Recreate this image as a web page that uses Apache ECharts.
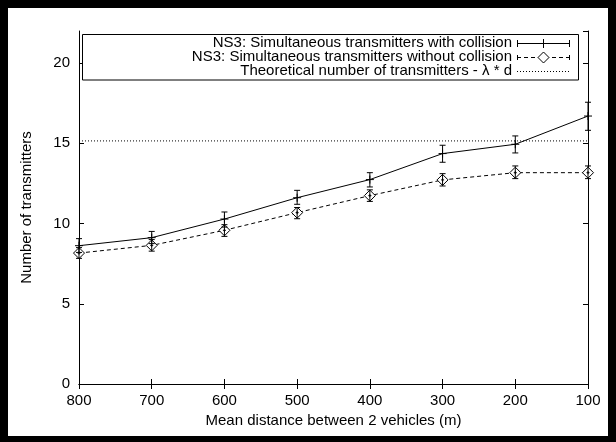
<!DOCTYPE html>
<html><head><meta charset="utf-8">
<script src="https://cdn.jsdelivr.net/npm/echarts@6/dist/echarts.min.js"></script>
<style>
html,body{margin:0;padding:0;background:#fff;}
#wrap{position:relative;width:616px;height:442px;}
#chart{width:616px;height:442px;}
#frame{position:absolute;left:0;top:0;width:616px;height:442px;box-sizing:border-box;border-style:solid;border-color:#000;border-width:8px 8px 6px 8px;pointer-events:none;}
</style></head>
<body><div id="wrap"><div id="chart"></div><div id="frame"></div></div>
<script>
const categories = ['800','700','600','500','400','300','200','100'];
const withCollision     = [8.62, 9.12, 10.28, 11.61, 12.74, 14.36, 14.94, 16.70];
const withCollisionLow  = [8.20, 8.75,  9.78, 11.20, 12.28, 13.82, 14.40, 15.81];
const withCollisionHigh = [9.06, 9.51, 10.72, 12.07, 13.17, 14.88, 15.46, 17.56];
const withoutCollision     = [8.16, 8.64, 9.58, 10.68, 11.74, 12.72, 13.17, 13.17];
const withoutCollisionLow  = [7.83, 8.28, 9.20, 10.30, 11.38, 12.34, 12.80, 12.80];
const withoutCollisionHigh = [8.50, 9.00, 9.93, 11.00, 12.10, 13.11, 13.59, 13.59];
const theoretical = [15.15, 15.15, 15.15, 15.15, 15.15, 15.15, 15.15, 15.15];
const yTicks = {min: 0, max: 22, interval: 5};

const FONT = 'Liberation Sans';
const errData = (mid, lo, hi) => mid.map((v, i) => [i, lo[i], hi[i], v]);

function errRender(kind) {
  return function (params, api) {
    const x = api.value(0);
    const lo = api.coord([x, api.value(1)]);
    const hi = api.coord([x, api.value(2)]);
    const md = api.coord([x, api.value(3)]);
    const st = {stroke: '#000', lineWidth: 1, fill: null};
    const cap = 3;
    const kids = [
      {type: 'line', shape: {x1: lo[0], y1: lo[1], x2: hi[0], y2: hi[1]}, style: st},
      {type: 'line', shape: {x1: lo[0] - cap, y1: lo[1], x2: lo[0] + cap, y2: lo[1]}, style: st},
      {type: 'line', shape: {x1: hi[0] - cap, y1: hi[1], x2: hi[0] + cap, y2: hi[1]}, style: st}
    ];
    const p = kind === 'plus' ? 4 : 1.5;
    kids.push({type: 'line', shape: {x1: md[0] - p, y1: md[1], x2: md[0] + p, y2: md[1]}, style: st});
    kids.push({type: 'line', shape: {x1: md[0], y1: md[1] - p, x2: md[0], y2: md[1] + p}, style: st});
    return {type: 'group', children: kids};
  };
}

const chart = echarts.init(document.getElementById('chart'), null, {renderer: 'canvas'});
const axisLine = {show: true, lineStyle: {color: '#000', width: 1}};
const axisTick = {show: true, inside: true, length: 5, lineStyle: {color: '#000'}};
const label = {color: '#000', fontFamily: FONT, fontSize: 15};

// legend layout
const lgX = 512, lgS1 = 517, lgS2 = 570, rows = [43, 57, 71];
const lgMid = (lgS1 + lgS2) / 2;
const lgStyle = {stroke: '#000', lineWidth: 1, fill: null};
const textStyle = t => ({text: t, font: '15px ' + FONT, fill: '#000', textAlign: 'right', textVerticalAlign: 'middle'});
const graphic = [
  {type: 'rect', shape: {x: 82.5, y: 34.5, width: 496, height: 45.5}, style: {stroke: '#000', lineWidth: 1, fill: '#fff'}, z: 10},
  {type: 'text', x: lgX, y: rows[0], style: textStyle('NS3: Simultaneous transmitters with collision'), z: 11},
  {type: 'text', x: lgX, y: rows[1], style: textStyle('NS3: Simultaneous transmitters without collision'), z: 11},
  {type: 'text', x: lgX, y: rows[2], style: textStyle('Theoretical number of transmitters - λ * d'), z: 11},
  // sample 1
  {type: 'line', shape: {x1: lgS1, y1: rows[0] + 0.5, x2: lgS2, y2: rows[0] + 0.5}, style: lgStyle, z: 11},
  {type: 'line', shape: {x1: lgS1 + 0.5, y1: rows[0] - 3, x2: lgS1 + 0.5, y2: rows[0] + 4}, style: lgStyle, z: 11},
  {type: 'line', shape: {x1: lgS2 - 0.5, y1: rows[0] - 3, x2: lgS2 - 0.5, y2: rows[0] + 4}, style: lgStyle, z: 11},
  {type: 'line', shape: {x1: lgMid, y1: rows[0] - 4, x2: lgMid, y2: rows[0] + 5}, style: lgStyle, z: 11},
  // sample 2
  {type: 'line', shape: {x1: lgS1, y1: rows[1] + 0.5, x2: lgS2, y2: rows[1] + 0.5}, style: {stroke: '#000', lineWidth: 1, lineDash: [4, 3]}, z: 11},
  {type: 'line', shape: {x1: lgS1 + 0.5, y1: rows[1] - 2, x2: lgS1 + 0.5, y2: rows[1] + 3}, style: lgStyle, z: 11},
  {type: 'line', shape: {x1: lgS2 - 0.5, y1: rows[1] - 2, x2: lgS2 - 0.5, y2: rows[1] + 3}, style: lgStyle, z: 11},
  {type: 'polygon', shape: {points: [[lgMid, rows[1] - 5], [lgMid + 5.5, rows[1] + 0.5], [lgMid, rows[1] + 6], [lgMid - 5.5, rows[1] + 0.5]]}, style: {stroke: '#000', lineWidth: 1, fill: '#fff'}, z: 12},
  // sample 3
  {type: 'line', shape: {x1: lgS1, y1: rows[2] + 0.5, x2: lgS2, y2: rows[2] + 0.5}, style: {stroke: '#000', lineWidth: 1, lineDash: [1, 2]}, z: 11}
];

chart.setOption({
  animation: false,
  backgroundColor: '#fff',
  grid: {left: 79, right: 28, top: 31, bottom: 58, show: false},
  xAxis: [
    {type: 'category', data: categories, boundaryGap: false, position: 'bottom',
     axisLine: axisLine, axisTick: axisTick, axisLabel: Object.assign({margin: 9}, label),
     splitLine: {show: false},
     name: 'Mean distance between 2 vehicles (m)', nameLocation: 'middle', nameGap: 27,
     nameTextStyle: {color: '#000', fontFamily: FONT, fontSize: 15}},
    {type: 'category', data: categories, boundaryGap: false, position: 'top',
     axisLine: axisLine, axisTick: axisTick, axisLabel: {show: false}, splitLine: {show: false}}
  ],
  yAxis: [
    {type: 'value', min: yTicks.min, max: yTicks.max, interval: yTicks.interval, position: 'left',
     axisLine: axisLine, axisTick: axisTick, axisLabel: Object.assign({margin: 9, showMaxLabel: false}, label),
     splitLine: {show: false},
     name: 'Number of transmitters', nameLocation: 'middle', nameGap: 45,
     nameTextStyle: {color: '#000', fontFamily: FONT, fontSize: 15}},
    {type: 'value', min: yTicks.min, max: yTicks.max, interval: yTicks.interval, position: 'right',
     axisLine: axisLine, axisTick: axisTick, axisLabel: {show: false}, splitLine: {show: false}}
  ],
  series: [
    {name: 'Theoretical number of transmitters - λ * d', type: 'line', data: theoretical,
     showSymbol: false, lineStyle: {color: '#000', width: 1, type: [1, 2]}, z: 2},
    {name: 'NS3: Simultaneous transmitters with collision', type: 'line', data: withCollision,
     showSymbol: false, lineStyle: {color: '#000', width: 1}, z: 3},
    {name: 'NS3: Simultaneous transmitters without collision', type: 'line', data: withoutCollision,
     symbol: 'diamond', symbolSize: 11, showSymbol: true,
     itemStyle: {color: '#fff', borderColor: '#000', borderWidth: 1},
     lineStyle: {color: '#000', width: 1, type: [4, 3]}, z: 3},
    {type: 'custom', data: errData(withCollision, withCollisionLow, withCollisionHigh),
     renderItem: errRender('plus'), encode: {x: 0, y: [1, 2]}, z: 5, clip: false},
    {type: 'custom', data: errData(withoutCollision, withoutCollisionLow, withoutCollisionHigh),
     renderItem: errRender('dot'), encode: {x: 0, y: [1, 2]}, z: 5, clip: false}
  ],
  graphic: graphic
});
</script></body></html>
